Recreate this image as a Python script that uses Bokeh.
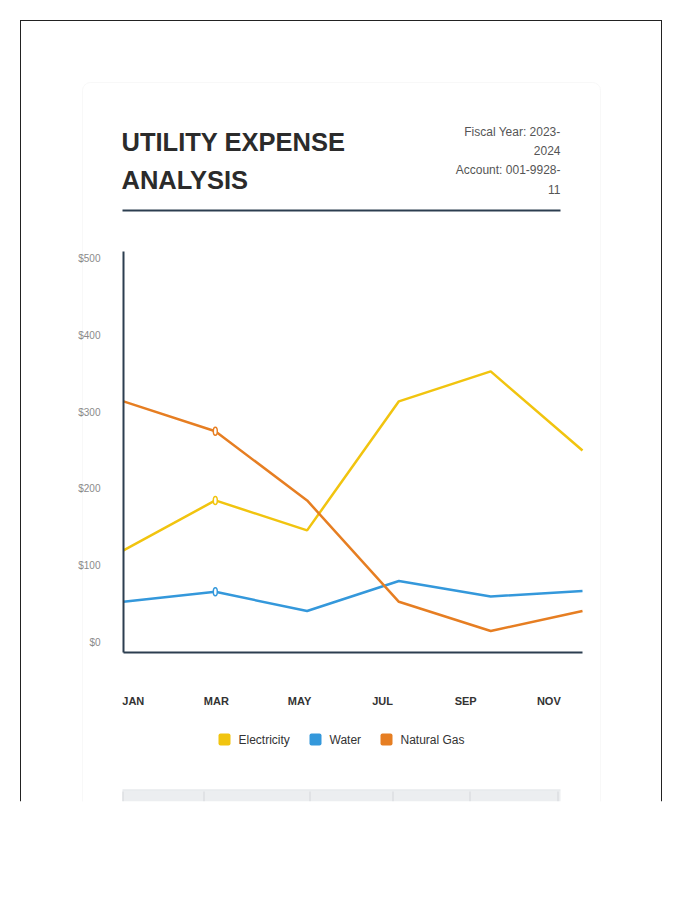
from bokeh.plotting import figure
from bokeh.models import Range1d, LinearAxis, FixedTicker, Label, BoxAnnotation
from bokeh.embed import file_html
from bokeh.resources import INLINE

# ---- data ----
months = ["JAN", "MAR", "MAY", "JUL", "SEP", "NOV"]
electricity = [120, 185, 146, 314, 353, 250]
water = [53, 66, 41, 80, 60, 67]
natural_gas = [314, 275, 185, 53, 15, 41]
y_ticks = [0, 100, 200, 300, 400, 500]
y_tick_labels = ["$0", "$100", "$200", "$300", "$400", "$500"]
series_names = ["Electricity", "Water", "Natural Gas"]
series_colors = ["#f1c40f", "#3498db", "#e67e22"]
title_lines = ["UTILITY EXPENSE", "ANALYSIS"]
meta_lines = ["Fiscal Year: 2023-", "2024", "Account: 001-9928-", "11"]

FONT = "Liberation Sans"
x_idx = list(range(len(months)))

# page canvas (pixel coordinates, y downward); chart placed through extra ranges
W, H = 700, 900
CH_L, CH_R, CH_T, CH_B = 123, 582, 251, 652          # chart frame in page pixels
Y0_PX, Y500_PX = 642, 258                            # where $0 and $500 sit
LBL_FIRST, LBL_STEP = 132.8, 83.1                    # month label centres

p = figure(width=W, height=H, output_backend="svg", toolbar_location=None,
           x_range=Range1d(0, W), y_range=Range1d(H, 0),
           x_axis_location=None, y_axis_location=None, min_border=0)
p.grid.visible = False
p.outline_line_color = None
p.background_fill_color = "white"
p.border_fill_color = "white"

# month-index range: first month at CH_L, last at CH_R
n = len(months) - 1
ppu_x = (CH_R - CH_L) / n
p.extra_x_ranges = {
    "cx": Range1d(-CH_L / ppu_x, n + (W - CH_R) / ppu_x),
    "lbl": Range1d(-LBL_FIRST / LBL_STEP, (W - LBL_FIRST) / LBL_STEP),
}
ppu_y = (Y0_PX - Y500_PX) / 500.0
p.extra_y_ranges = {"cy": Range1d(-(H - Y0_PX) / ppu_y, Y0_PX / ppu_y)}

# ---- decorations ----
def box(l, r, t, b, color, level="underlay", **kw):
    bx = BoxAnnotation(left=l, right=r, top=t, bottom=b,
                       left_units="canvas", right_units="canvas",
                       top_units="canvas", bottom_units="canvas",
                       fill_color=color, fill_alpha=1.0, line_color=None,
                       level=level, **kw)
    p.add_layout(bx)
    return bx

card = BoxAnnotation(left=82, right=600, top=82, bottom=830,
                     left_units="canvas", right_units="canvas",
                     top_units="canvas", bottom_units="canvas",
                     fill_color="white", fill_alpha=1.0,
                     line_color="#e9e9e9", line_width=1, border_radius=8,
                     level="underlay")
p.add_layout(card)
# outer page frame
box(19.5, 20.5, 19.5, 801, "#222222")
box(660.5, 661.5, 19.5, 801, "#222222")
box(19.5, 661.5, 19.5, 20.5, "#222222")
# header rule
box(122, 560, 209, 211, "#2c3e50")
# table header strip (cut off by the page edge)
box(122, 560, 790, 801, "#eceef0")
box(122, 560, 789, 790, "#dcdfe3")
for xv in [122, 203, 309, 392, 469, 557]:
    box(xv, xv + 1, 791, 801, "#d3d6da")
box(0, W, 801, H, "white", level="overlay")

# ---- header text ----
for i, t in enumerate(title_lines):
    p.add_layout(Label(x=121, y=141 + 38 * i, x_units="canvas", y_units="canvas",
                       text=t, text_font=FONT, text_font_size="25.5px",
                       text_font_style="bold", text_color="#2b2b2b",
                       text_baseline="middle", text_align="left"))
for i, t in enumerate(meta_lines):
    p.add_layout(Label(x=560, y=131 + 19.2 * i, x_units="canvas", y_units="canvas",
                       text=t, text_font=FONT, text_font_size="12px",
                       text_color="#555555", text_baseline="middle", text_align="right"))

# ---- axes (fixed at the chart edges) ----
xaxis = LinearAxis(x_range_name="lbl", fixed_location=CH_B,
                   bounds=((CH_L - LBL_FIRST) / LBL_STEP, (CH_R - LBL_FIRST) / LBL_STEP),
                   ticker=FixedTicker(ticks=x_idx),
                   major_label_overrides={i: m for i, m in enumerate(months)})
xaxis.axis_line_color = "#2c3e50"
xaxis.axis_line_width = 2
xaxis.major_tick_line_color = None
xaxis.minor_tick_line_color = None
xaxis.major_label_standoff = 36
xaxis.major_label_text_font = FONT
xaxis.major_label_text_font_size = "11px"
xaxis.major_label_text_font_style = "bold"
xaxis.major_label_text_color = "#333333"
p.add_layout(xaxis, "below")

yaxis = LinearAxis(y_range_name="cy", fixed_location=CH_L,
                   bounds=(-(CH_B - Y0_PX) / ppu_y, (Y0_PX - CH_T) / ppu_y),
                   ticker=FixedTicker(ticks=y_ticks),
                   major_label_overrides={t: l for t, l in zip(y_ticks, y_tick_labels)})
yaxis.axis_line_color = "#2c3e50"
yaxis.axis_line_width = 2
yaxis.major_tick_line_color = None
yaxis.minor_tick_line_color = None
yaxis.major_label_standoff = 17
yaxis.major_label_text_font = FONT
yaxis.major_label_text_font_size = "10px"
yaxis.major_label_text_color = "#8a8a8a"
p.add_layout(yaxis, "left")

# ---- series ----
all_series = [electricity, water, natural_gas]
for vals, c in zip(all_series, series_colors):
    p.line(x_idx, vals, line_color=c, line_width=2.5,
           x_range_name="cx", y_range_name="cy")
for vals, c in zip(all_series, series_colors):
    p.ellipse(x=[x_idx[1]], y=[vals[1]], width=4, height=8,
              width_units="screen", height_units="screen",
              fill_color="white", line_color=c, line_width=1.5,
              x_range_name="cx", y_range_name="cy")

# ---- legend ----
legend_sq_x = [218, 309, 380]
for name, c, sx in zip(series_names, series_colors, legend_sq_x):
    box(sx, sx + 12, 733, 745, c, level="overlay", border_radius=2)
    p.add_layout(Label(x=sx + 20, y=739, x_units="canvas", y_units="canvas",
                       text=name, text_font=FONT, text_font_size="12px",
                       text_color="#333333", text_baseline="middle", text_align="left"))

open("out.html", "w").write(file_html(p, INLINE))
